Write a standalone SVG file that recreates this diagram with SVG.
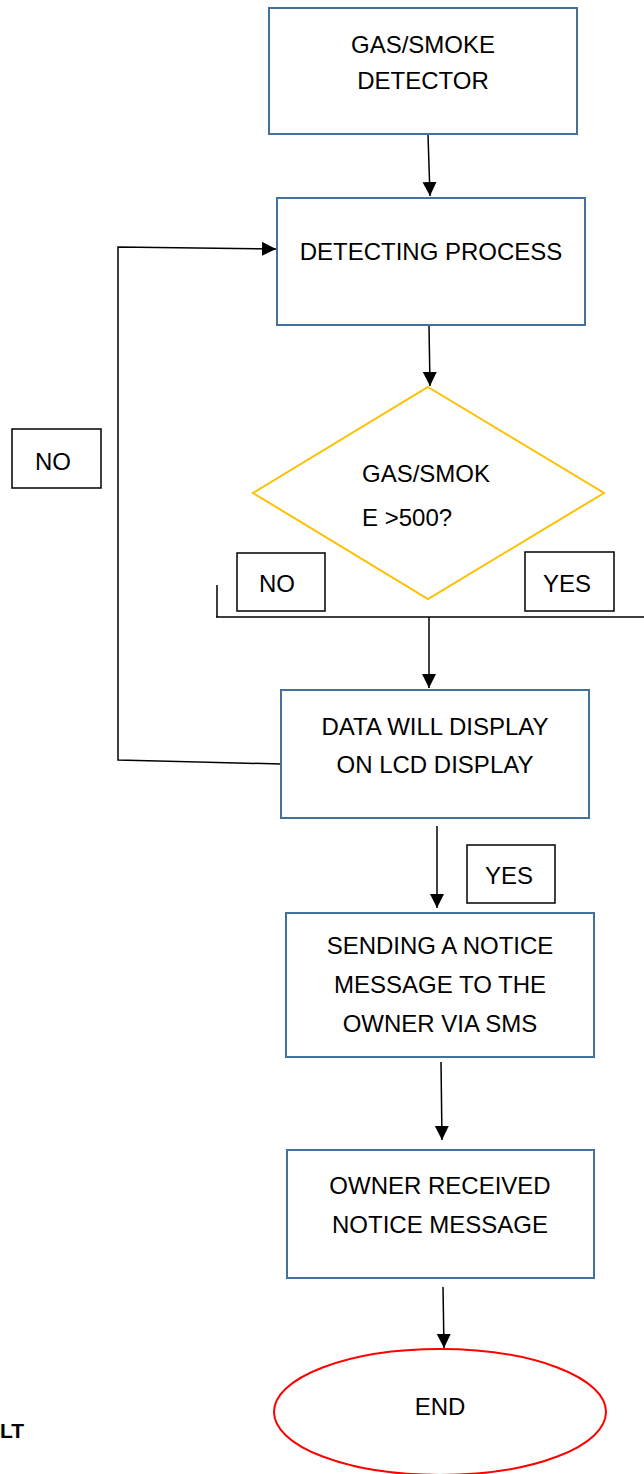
<svg xmlns="http://www.w3.org/2000/svg" width="644" height="1474" viewBox="0 0 644 1474">
<style>
.box{fill:#fff;stroke:#41719C;stroke-width:2}
.lbl{fill:#fff;stroke:#000;stroke-width:1.5}
.t{font-family:"Liberation Sans",Arial,sans-serif;font-size:24px;fill:#000;text-anchor:middle}
.tl{font-family:"Liberation Sans",Arial,sans-serif;font-size:24px;fill:#000}
.c{fill:none;stroke:#000;stroke-width:1.5}
</style>
<defs>
<marker id="ah" markerUnits="userSpaceOnUse" markerWidth="14" markerHeight="16" refX="14" refY="7" orient="auto">
<path d="M0,0 L14,7 L0,14 Z" fill="#000"/>
</marker>
</defs>
<rect width="644" height="1474" fill="#fff"/>
<g id="connectors">
<path class="c" d="M428,135 L430,196" marker-end="url(#ah)"/>
<path class="c" d="M429,326 L430,386" marker-end="url(#ah)"/>
<path class="c" d="M217,585 L217,617 M216,617 L644,617"/>
<path class="c" d="M429,617 L429,688" marker-end="url(#ah)"/>
<path class="c" d="M281,764 L118,760 L118,247 L276,249" marker-end="url(#ah)"/>
<path class="c" d="M437,826 L437,908" marker-end="url(#ah)"/>
<path class="c" d="M441,1062 L442,1140" marker-end="url(#ah)"/>
<path class="c" d="M443,1287 L444,1348" marker-end="url(#ah)"/>
</g>
<g id="gas-smoke-detector">
<rect class="box" x="269" y="8" width="308" height="126"/>
<text class="t" x="423" y="53">GAS/SMOKE</text>
<text class="t" x="423" y="89">DETECTOR</text>
</g>
<g id="detecting-process">
<rect class="box" x="277" y="198" width="308" height="127"/>
<text class="t" x="431" y="260">DETECTING PROCESS</text>
</g>
<g id="decision">
<polygon points="428,387 604,493 428,599 253,493" fill="#fff" stroke="#FFC000" stroke-width="2"/>
<text class="tl" x="362" y="482">GAS/SMOK</text>
<text class="tl" x="362" y="526">E &gt;500?</text>
</g>
<g id="label-no-decision">
<rect class="lbl" x="237" y="553" width="88" height="58"/>
<text class="t" x="277" y="592">NO</text>
</g>
<g id="label-yes-decision">
<rect class="lbl" x="525" y="552" width="89" height="59"/>
<text class="t" x="567" y="592">YES</text>
</g>
<g id="lcd-display">
<rect class="box" x="281" y="690" width="308" height="128"/>
<text class="t" x="435" y="735">DATA WILL DISPLAY</text>
<text class="t" x="435" y="773">ON LCD DISPLAY</text>
</g>
<g id="label-no-loop">
<rect class="lbl" x="12" y="429" width="89" height="59"/>
<text class="t" x="53" y="470">NO</text>
</g>
<g id="label-yes-lower">
<rect class="lbl" x="467" y="845" width="88" height="58"/>
<text class="t" x="509" y="884">YES</text>
</g>
<g id="sending-notice">
<rect class="box" x="286" y="913" width="308" height="144"/>
<text class="t" x="440" y="954">SENDING A NOTICE</text>
<text class="t" x="440" y="993">MESSAGE TO THE</text>
<text class="t" x="440" y="1032">OWNER VIA SMS</text>
</g>
<g id="owner-received">
<rect class="box" x="287" y="1150" width="307" height="128"/>
<text class="t" x="440" y="1194">OWNER RECEIVED</text>
<text class="t" x="440" y="1233">NOTICE MESSAGE</text>
</g>
<g id="end">
<ellipse cx="440" cy="1412" rx="166" ry="63" fill="#fff" stroke="#FF0000" stroke-width="2"/>
<text class="t" x="440" y="1415">END</text>
</g>
<text x="0" y="1438" font-family="'Liberation Sans',Arial,sans-serif" font-size="21" font-weight="bold" fill="#000">LT</text>
</svg>
